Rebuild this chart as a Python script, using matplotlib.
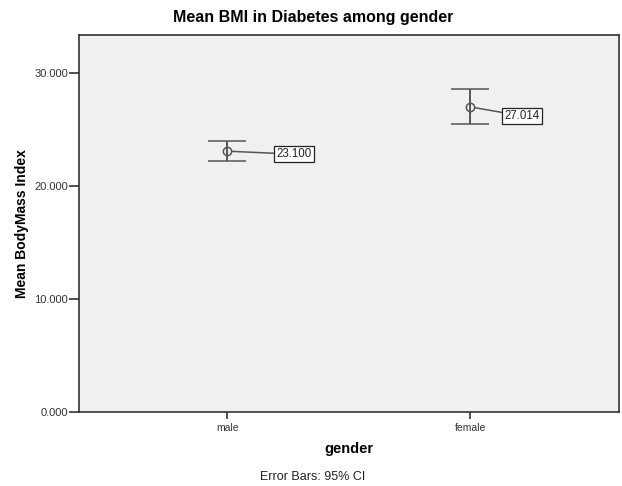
import matplotlib
matplotlib.use("Agg")
import matplotlib.pyplot as plt

plt.rcParams["font.family"] = ["Liberation Sans", "DejaVu Sans"]

genders = ["male", "female"]
mean_bmi = [23.100, 27.014]
ci_low = [22.25, 25.53]
ci_high = [23.99, 28.56]

fig = plt.figure(figsize=(6.22, 4.86), dpi=100)
ax = fig.add_axes([0.127, 0.1516, 0.868, 0.776])
ax.set_facecolor("#f0f0f0")

pos = [1, 2]
yerr = [[m - lo for m, lo in zip(mean_bmi, ci_low)],
        [hi - m for m, hi in zip(mean_bmi, ci_high)]]
ax.errorbar(pos, mean_bmi, yerr=yerr, fmt="o", ms=6, mfc="none",
            mec="#555555", mew=1.1, ecolor="#555555", elinewidth=1.4,
            capsize=13.4, capthick=1.4)

# value callouts next to each mean
offsets = [(49, 3), (34, 9)]
for x, m, (dx, dy) in zip(pos, mean_bmi, offsets):
    ax.annotate(f"{m:.3f}", xy=(x, m), xytext=(dx, -dy),
                textcoords="offset pixels", ha="left", va="center",
                fontsize=8.3, color="#222222",
                bbox=dict(boxstyle="square,pad=0.2", fc="white", ec="#222222", lw=0.9),
                arrowprops=dict(arrowstyle="-", color="#555555", lw=1.1,
                                shrinkA=0, shrinkB=3))

ax.set_xlim(0.389, 2.611)
ax.set_ylim(0, 33.36)
ax.set_xticks(pos)
ax.set_xticklabels(genders, fontsize=7.5, color="#333333")
ax.set_yticks([0, 10, 20, 30])
ax.set_yticklabels([f"{v:.3f}" for v in [0, 10, 20, 30]], fontsize=8, color="#333333")
ax.tick_params(axis="y", length=7, width=1.2, color="#333333", pad=1)
ax.tick_params(axis="x", length=5, width=1.2, color="#333333", pad=2.5)
for s in ax.spines.values():
    s.set_color("#333333")
    s.set_linewidth(1.2)

ax.set_ylabel("Mean BodyMass Index", fontsize=10, fontweight="bold", labelpad=4)
ax.set_xlabel("gender", fontsize=10.5, fontweight="bold", labelpad=7)
fig.text(0.503, 0.963, "Mean BMI in Diabetes among gender", ha="center", va="center",
         fontsize=11.5, fontweight="bold")
fig.text(0.502, 0.018, "Error Bars: 95% CI", ha="center", va="center", fontsize=9,
         color="#222222")

fig.savefig("out.png", dpi=100)
